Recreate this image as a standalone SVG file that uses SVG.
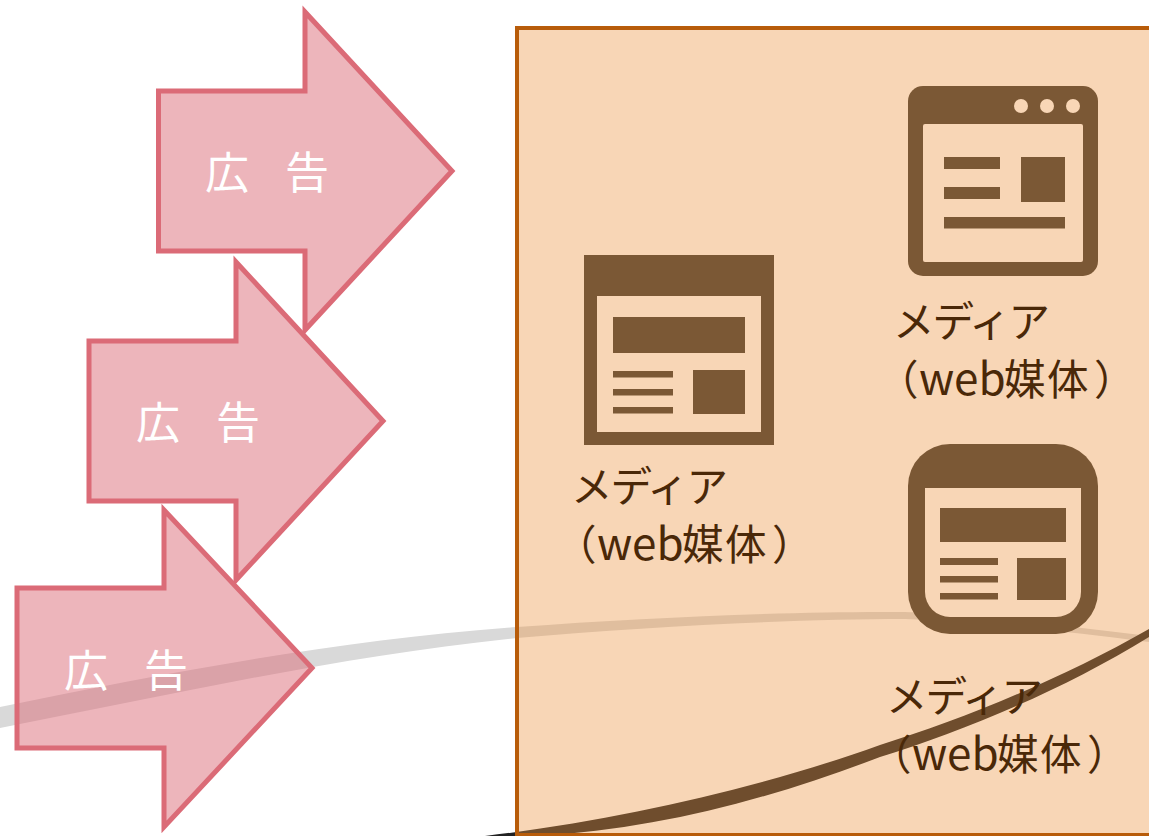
<svg xmlns="http://www.w3.org/2000/svg" width="1149" height="836" viewBox="0 0 1149 836">
<style>
.arrow{fill:#db6b77;fill-opacity:.5;stroke:#db6b77;stroke-width:5;stroke-miterlimit:10}
.adv{font-family:"Noto Sans CJK JP","Noto Sans",sans-serif;font-size:44px;fill:#fff;font-weight:400}
.lbl{font-family:"Noto Sans CJK JP","Noto Sans",sans-serif;font-size:41.500px;fill:#4a2808}
.t1{letter-spacing:-2px}
.w{font-size:44px}
.ic{fill:#7b5835}
.bg{fill:#f8d6b6}
</style>
<g id="connectors">
<path id="grey-curve" fill="#d9d9d9" d="M0,707 C170,672 340,640 517,627 C650,617 800,611 905,612 C960,613 1060,625 1149,636 L1149,642 C1060,630 960,621 905,619 C800,619 650,626 517,638 C340,656 170,695 0,728 Z"/>
<path id="dark-curve" fill="#222222" d="M485,836 C620,820 760,788 880,745 C960,720 1060,680 1149,629 L1149,637 C1060,692 960,732 880,757 C760,803 640,833 517,837 Z"/>
</g>
<g id="panel">
<rect x="517" y="28" width="700" height="807" fill="#ed933f" fill-opacity=".38"/>
<rect x="517" y="28" width="700" height="807" fill="none" stroke="#b85c0a" stroke-width="4"/>
</g>
<g id="media-1">
<rect class="ic" x="584" y="255" width="190" height="190"/>
<rect class="bg" x="597" y="296" width="164" height="136"/>
<rect class="ic" x="613" y="317" width="132" height="36"/>
<rect class="ic" x="613" y="371" width="60" height="6.500"/>
<rect class="ic" x="613" y="389" width="60" height="6.500"/>
<rect class="ic" x="613" y="407" width="60" height="6.500"/>
<rect class="ic" x="693" y="370" width="52" height="44"/>
<text class="lbl t1" x="571" y="502">メディア</text>
<text class="lbl" y="560"><tspan x="555">（</tspan><tspan x="597" class="w">web</tspan><tspan x="682">媒</tspan><tspan x="725">体</tspan><tspan x="772">）</tspan></text>
</g>
<g id="media-2">
<rect class="ic" x="908" y="86" width="190" height="190" rx="15"/>
<rect class="bg" x="923" y="124" width="160" height="138" rx="2"/>
<circle class="bg" cx="1021" cy="106" r="7"/>
<circle class="bg" cx="1047" cy="106" r="7"/>
<circle class="bg" cx="1073" cy="106" r="7"/>
<rect class="ic" x="944" y="157" width="56" height="12"/>
<rect class="ic" x="944" y="187" width="56" height="12"/>
<rect class="ic" x="1021" y="157" width="44" height="45"/>
<rect class="ic" x="944" y="217" width="121" height="11.500"/>
<text class="lbl t1" x="893" y="337">メディア</text>
<text class="lbl" y="395"><tspan x="877">（</tspan><tspan x="919" class="w">web</tspan><tspan x="1004">媒</tspan><tspan x="1047">体</tspan><tspan x="1094">）</tspan></text>
</g>
<g id="media-3">
<rect class="ic" x="908" y="444" width="190" height="190" rx="42"/>
<path class="bg" d="M925,488 H1081 V592 A25,25 0 0 1 1056,617 H950 A25,25 0 0 1 925,592 Z"/>
<rect class="ic" x="940" y="508" width="126" height="34"/>
<rect class="ic" x="940" y="558" width="58" height="7"/>
<rect class="ic" x="940" y="576" width="58" height="6.500"/>
<rect class="ic" x="940" y="593" width="58" height="6.500"/>
<rect class="ic" x="1017" y="558" width="49" height="42"/>
<text class="lbl t1" x="886" y="712">メディア</text>
<text class="lbl" y="770"><tspan x="870">（</tspan><tspan x="912" class="w">web</tspan><tspan x="997">媒</tspan><tspan x="1040">体</tspan><tspan x="1087">）</tspan></text>
</g>
<g id="ad-1">
<path class="arrow" d="M158.500,91 H305 V12 L452,171 L305,330 V251 H158.500 Z"/>
<text class="adv" x="205 245 285" y="189">広　告</text>
</g>
<g id="ad-2">
<path class="arrow" d="M89,341 H236 V262 L383,421 L236,580 V501 H89 Z"/>
<text class="adv" x="136 176 216" y="439">広　告</text>
</g>
<g id="ad-3">
<path class="arrow" d="M17,588 H164 V510 L312,668 L164,827 V748 H17 Z"/>
<text class="adv" x="64 104 144" y="687">広　告</text>
</g>
</svg>
